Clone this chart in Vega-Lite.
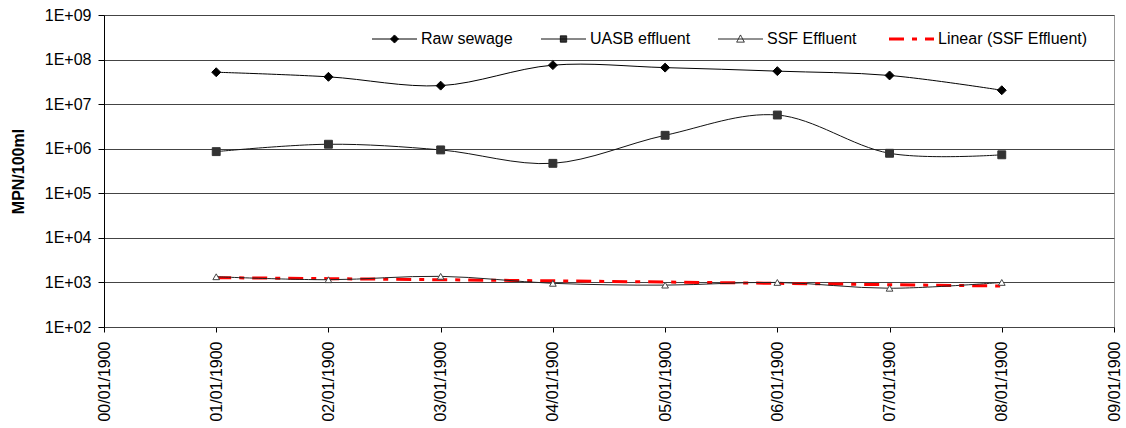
{
  "$schema": "https://vega.github.io/schema/vega-lite/v6.json",
  "width": 1010,
  "height": 312,
  "autosize": {"type": "none"},
  "padding": {"left": 104, "top": 15, "right": 12, "bottom": 101},
  "background": "white",
  "config": {"font": "Liberation Sans", "view": {"stroke": "#999999", "strokeWidth": 1}},
  "datasets": {
    "measured": [
      {"day": 1, "series": "Raw sewage", "mpn": 52000000},
      {"day": 2, "series": "Raw sewage", "mpn": 41000000},
      {"day": 3, "series": "Raw sewage", "mpn": 26000000},
      {"day": 4, "series": "Raw sewage", "mpn": 75000000},
      {"day": 5, "series": "Raw sewage", "mpn": 66000000},
      {"day": 6, "series": "Raw sewage", "mpn": 55000000},
      {"day": 7, "series": "Raw sewage", "mpn": 44000000},
      {"day": 8, "series": "Raw sewage", "mpn": 20500000},
      {"day": 1, "series": "UASB effluent", "mpn": 860000},
      {"day": 2, "series": "UASB effluent", "mpn": 1260000},
      {"day": 3, "series": "UASB effluent", "mpn": 940000},
      {"day": 4, "series": "UASB effluent", "mpn": 470000},
      {"day": 5, "series": "UASB effluent", "mpn": 2000000},
      {"day": 6, "series": "UASB effluent", "mpn": 5700000},
      {"day": 7, "series": "UASB effluent", "mpn": 790000},
      {"day": 8, "series": "UASB effluent", "mpn": 730000},
      {"day": 1, "series": "SSF Effluent", "mpn": 1340},
      {"day": 2, "series": "SSF Effluent", "mpn": 1150},
      {"day": 3, "series": "SSF Effluent", "mpn": 1370},
      {"day": 4, "series": "SSF Effluent", "mpn": 955},
      {"day": 5, "series": "SSF Effluent", "mpn": 870},
      {"day": 6, "series": "SSF Effluent", "mpn": 1000},
      {"day": 7, "series": "SSF Effluent", "mpn": 740},
      {"day": 8, "series": "SSF Effluent", "mpn": 1000}
    ],
    "trend": [
      {"day": 1, "series": "Linear (SSF Effluent)", "mpn": 1280},
      {"day": 2, "series": "Linear (SSF Effluent)", "mpn": 1215},
      {"day": 3, "series": "Linear (SSF Effluent)", "mpn": 1150},
      {"day": 4, "series": "Linear (SSF Effluent)", "mpn": 1085},
      {"day": 5, "series": "Linear (SSF Effluent)", "mpn": 1020},
      {"day": 6, "series": "Linear (SSF Effluent)", "mpn": 955},
      {"day": 7, "series": "Linear (SSF Effluent)", "mpn": 890},
      {"day": 8, "series": "Linear (SSF Effluent)", "mpn": 830}
    ]
  },
  "encoding": {
    "x": {
      "field": "day", "type": "quantitative",
      "scale": {"domain": [0, 9], "nice": false, "zero": false},
      "axis": {
        "title": null, "values": [0, 1, 2, 3, 4, 5, 6, 7, 8, 9],
        "labelExpr": "'0' + datum.value + '/01/1900'",
        "labelAngle": -90, "labelFontSize": 16, "labelColor": "#000000",
        "labelPadding": 9, "labelFlush": false, "labelOverlap": false, "labelBound": false,
        "tickSize": 5, "tickColor": "#000000", "domainColor": "#444444", "grid": false
      }
    },
    "y": {
      "field": "mpn", "type": "quantitative",
      "scale": {"type": "log", "domain": [100, 1000000000], "nice": false},
      "axis": {
        "title": "MPN/100ml", "titleFontSize": 16, "titleFontWeight": "bold", "titleColor": "#000000",
        "titlePadding": 18,
        "values": [100, 1000, 10000, 100000, 1000000, 10000000, 100000000, 1000000000],
        "labelExpr": "'1E+0' + round(log(datum.value) / LN10)",
        "labelFontSize": 16, "labelColor": "#000000", "labelPadding": 7, "labelFlush": false, "labelOverlap": false,
        "tickSize": 6, "tickColor": "#000000", "domainColor": "#000000",
        "grid": true, "gridColor": "#444444", "gridOpacity": 1, "gridWidth": 1
      }
    }
  },
  "layer": [
    {
      "data": {"name": "trend"},
      "mark": {"type": "line", "color": "#ff0000", "strokeWidth": 3, "strokeDash": [15, 8, 5, 8]}
    },
    {
      "data": {"name": "measured"},
      "mark": {"type": "line", "interpolate": "cardinal", "strokeWidth": 1},
      "encoding": {
        "color": {
          "field": "series", "type": "nominal",
          "scale": {
            "domain": ["Raw sewage", "UASB effluent", "SSF Effluent", "Linear (SSF Effluent)"],
            "range": ["#000000", "#111111", "#222222", "#ff0000"]
          },
          "legend": {
            "orient": "none", "legendX": 282.5, "legendY": 16, "direction": "horizontal", "columns": 4,
            "title": null, "padding": 0, "symbolSize": 2025, "labelFontSize": 16, "labelColor": "#000000",
            "labelOffset": 18.5, "columnPadding": 25, "symbolStrokeWidth": 1,
            "encode": {
              "symbols": {
                "update": {
                  "size": {"value": 2025},
                  "shape": {"signal": "datum.value === 'Raw sewage' ? 'M-1,0H1M-0.18,0L0,-0.18L0.18,0L0,0.18Z' : datum.value === 'UASB effluent' ? 'M-1,0H1M-0.14,-0.14H0.14V0.14H-0.14Z' : datum.value === 'SSF Effluent' ? 'M-1,0H1M-0.17,0.14L0,-0.18L0.17,0.14Z' : 'M-1,0H1'"},
                  "fill": {"signal": "datum.value === 'UASB effluent' ? '#333333' : datum.value === 'SSF Effluent' ? '#ffffff' : datum.value === 'Raw sewage' ? '#000000' : 'transparent'"},
                  "stroke": {"signal": "datum.value === 'Linear (SSF Effluent)' ? '#ff0000' : '#000000'"},
                  "strokeWidth": {"signal": "datum.value === 'Linear (SSF Effluent)' ? 3 : 1"},
                  "strokeDash": {"signal": "datum.value === 'Linear (SSF Effluent)' ? [15, 8, 5, 8] : [1, 0]"},
                  "opacity": {"value": 1}
                }
              }
            }
          }
        }
      }
    },
    {
      "data": {"name": "measured"},
      "mark": {"type": "point", "opacity": 1, "strokeWidth": 1},
      "encoding": {
        "shape": {
          "field": "series", "type": "nominal",
          "scale": {"domain": ["Raw sewage", "UASB effluent", "SSF Effluent"], "range": ["diamond", "square", "triangle-up"]},
          "legend": null
        },
        "fill": {
          "field": "series", "type": "nominal",
          "scale": {"domain": ["Raw sewage", "UASB effluent", "SSF Effluent"], "range": ["#000000", "#333333", "#ffffff"]},
          "legend": null
        },
        "stroke": {
          "field": "series", "type": "nominal",
          "scale": {"domain": ["Raw sewage", "UASB effluent", "SSF Effluent"], "range": ["#000000", "#333333", "#444444"]},
          "legend": null
        },
        "size": {
          "field": "series", "type": "nominal",
          "scale": {"domain": ["Raw sewage", "UASB effluent", "SSF Effluent"], "range": [80, 45, 85]},
          "legend": null
        }
      }
    }
  ]
}
